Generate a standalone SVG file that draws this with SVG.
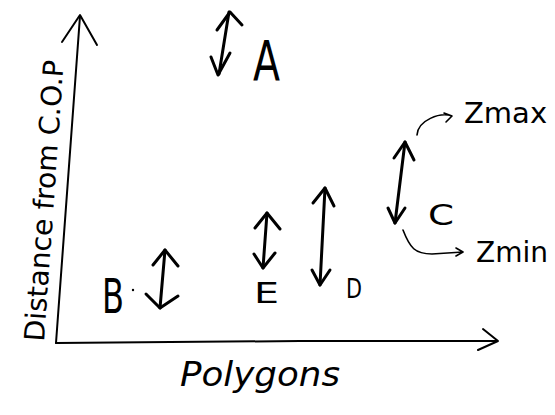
<svg xmlns="http://www.w3.org/2000/svg" width="555" height="415" viewBox="0 0 555 415">
<style>
.ln{fill:none;stroke:#000;stroke-linecap:round;stroke-linejoin:round}
.ax{stroke-width:2}
.ar{stroke-width:3}
.th{stroke-width:1.6}
.t{font-family:"DejaVu Sans",sans-serif;fill:#000}
</style>
<rect width="555" height="415" fill="#fff"/>
<g id="axes">
<polyline class="ln ax" points="56,343 80,16"/>
<polyline class="ln ax" points="62,42 80,15 97,45"/>
<polyline class="ln ax" points="56,343 300,341 497,341"/>
<polyline class="ln ax" points="483,329 498,341 478,350"/>
<text class="t" transform="translate(44,342) rotate(-86)" font-size="28" textLength="282" lengthAdjust="spacingAndGlyphs">Distance from C.O.P</text>
<text class="t" x="180" y="386" font-size="34" textLength="160" lengthAdjust="spacingAndGlyphs" font-style="italic">Polygons</text>
</g>
<g id="connectors">
<g id="arrow-A"><polyline class="ln ar" points="229,12 219,74"/><polyline class="ln ar" points="217,30 230,12 242,25"/><polyline class="ln ar" points="211,57 218,75 230,53"/></g>
<g id="arrow-B"><polyline class="ln ar" points="165,250 160,308"/><polyline class="ln ar" points="153,265 165,250 178,266"/><polyline class="ln ar" points="146,294 160,308 178,296"/></g>
<g id="arrow-E"><polyline class="ln ar" points="267,213 263,268"/><polyline class="ln ar" points="255,228 267,213 280,229"/><polyline class="ln ar" points="254,254 263,268 275,253"/></g>
<g id="arrow-D"><polyline class="ln ar" points="325,188 320,285"/><polyline class="ln ar" points="313,203 325,188 334,206"/><polyline class="ln ar" points="312,270 320,285 330,270"/></g>
<g id="arrow-C"><polyline class="ln ar" points="405,142 395,223"/><polyline class="ln ar" points="394,158 405,142 414,160"/><polyline class="ln ar" points="388,208 395,223 405,208"/></g>
<path class="ln th" d="M417,135 C418,120 440,112 452,116 M444,113 L452,116 L446,122"/>
<path class="ln th" d="M403,230 C410,248 415,254 432,254 L463,252 M456,248 L463,252 L456,256"/>
</g>
<g id="node-A"><text class="t" x="253" y="80" font-size="56" textLength="27" lengthAdjust="spacingAndGlyphs">A</text></g>
<g id="node-B"><text class="t" x="102" y="313" font-size="48" textLength="22" lengthAdjust="spacingAndGlyphs">B</text><circle cx="133" cy="290" r="1.2" fill="#000"/></g>
<g id="node-C"><text class="t" x="428" y="225" font-size="28" textLength="26" lengthAdjust="spacingAndGlyphs">C</text></g>
<g id="node-D"><text class="t" x="346" y="298" font-size="27" textLength="16" lengthAdjust="spacingAndGlyphs">D</text></g>
<g id="node-E"><text class="t" x="254" y="303" font-size="29" textLength="25" lengthAdjust="spacingAndGlyphs">E</text></g>
<g id="label-zmax"><text class="t" x="464" y="123" font-size="29">Zmax</text></g>
<g id="label-zmin"><text class="t" x="476" y="262" font-size="28">Zmin</text></g>
</svg>
